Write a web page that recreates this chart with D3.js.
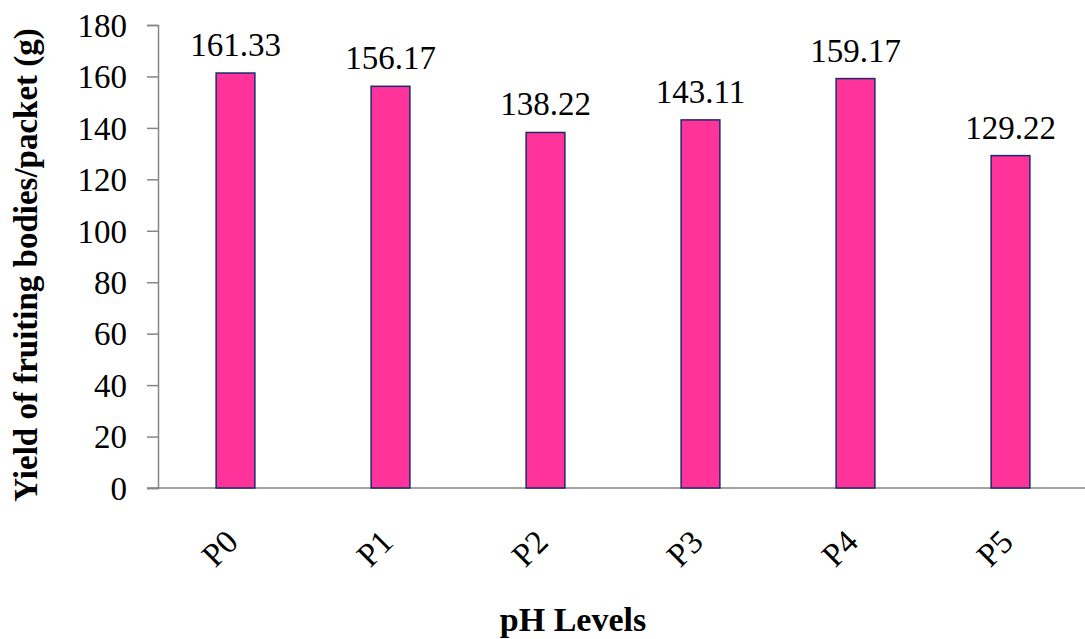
<!DOCTYPE html>
<html>
<head>
<meta charset="utf-8">
<script src="https://cdn.jsdelivr.net/npm/d3@7/dist/d3.min.js"></script>
<style>
  html, body { margin: 0; padding: 0; background: #fff; }
  svg { display: block; }
  text { font-family: "Liberation Serif", "Times New Roman", serif; fill: #000; }
</style>
</head>
<body>
<svg id="chart" width="1085" height="639"></svg>
<script>
const categories = ["P0", "P1", "P2", "P3", "P4", "P5"];
const values = [161.33, 156.17, 138.22, 143.11, 159.17, 129.22];
const valueLabels = ["161.33", "156.17", "138.22", "143.11", "159.17", "129.22"];
const yTicks = [0, 20, 40, 60, 80, 100, 120, 140, 160, 180];
const yTitle = "Yield of fruiting bodies/packet (g)";
const xTitle = "pH Levels";

const svg = d3.select("#chart");
const plotLeft = 158, plotRight = 1088, plotTop = 25, plotBottom = 488;

const x = d3.scaleBand().domain(categories).range([plotLeft, plotRight]).paddingInner(0.75).paddingOuter(0.375);
const y = d3.scaleLinear().domain([0, 180]).range([plotBottom, plotTop]);

const axisColor = "#868686";
const fs = 33;

// Y axis
const yAxis = svg.append("g").attr("transform", `translate(${plotLeft},0)`)
  .call(d3.axisLeft(y).tickValues(yTicks).tickSize(11).tickPadding(20).tickFormat(d3.format("d")));
yAxis.select(".domain").attr("stroke", axisColor).attr("stroke-width", 1.5);
yAxis.selectAll(".tick line").attr("stroke", axisColor).attr("stroke-width", 1.5);
yAxis.selectAll(".tick text").attr("font-size", fs).attr("font-family", "Liberation Serif").attr("fill", "#000").attr("dy", "0.34em");

// X axis baseline
svg.append("line")
  .attr("x1", plotLeft - 11).attr("x2", 1085)
  .attr("y1", y(0)).attr("y2", y(0))
  .attr("stroke", axisColor).attr("stroke-width", 1.5);

// Bars
svg.selectAll("rect.bar").data(values).enter().append("rect")
  .attr("class", "bar")
  .attr("x", (d, i) => x(categories[i]))
  .attr("width", x.bandwidth())
  .attr("y", d => y(d))
  .attr("height", d => y(0) - y(d))
  .attr("fill", "#FF3399")
  .attr("stroke", "#1C2A6B")
  .attr("stroke-width", 1.5);

// Value labels
svg.selectAll("text.val").data(values).enter().append("text")
  .attr("class", "val")
  .attr("x", (d, i) => x(categories[i]) + x.bandwidth() / 2)
  .attr("y", d => y(d) - 17)
  .attr("text-anchor", "middle")
  .attr("font-size", fs)
  .text((d, i) => valueLabels[i]);

// Category labels (rotated)
svg.selectAll("text.cat").data(categories).enter().append("text")
  .attr("class", "cat")
  .attr("transform", d => `translate(${x(d) + x.bandwidth() / 2 - 16},548) rotate(-45)`)
  .attr("text-anchor", "middle")
  .attr("dy", "0.35em")
  .attr("font-size", fs)
  .text(d => d);

// Axis titles
svg.append("text")
  .attr("transform", "translate(37,265) rotate(-90)")
  .attr("text-anchor", "middle")
  .attr("font-size", fs)
  .attr("font-weight", "bold")
  .text(yTitle);

svg.append("text")
  .attr("x", 573).attr("y", 631)
  .attr("text-anchor", "middle")
  .attr("font-size", 34)
  .attr("font-weight", "bold")
  .text(xTitle);
</script>
</body>
</html>
